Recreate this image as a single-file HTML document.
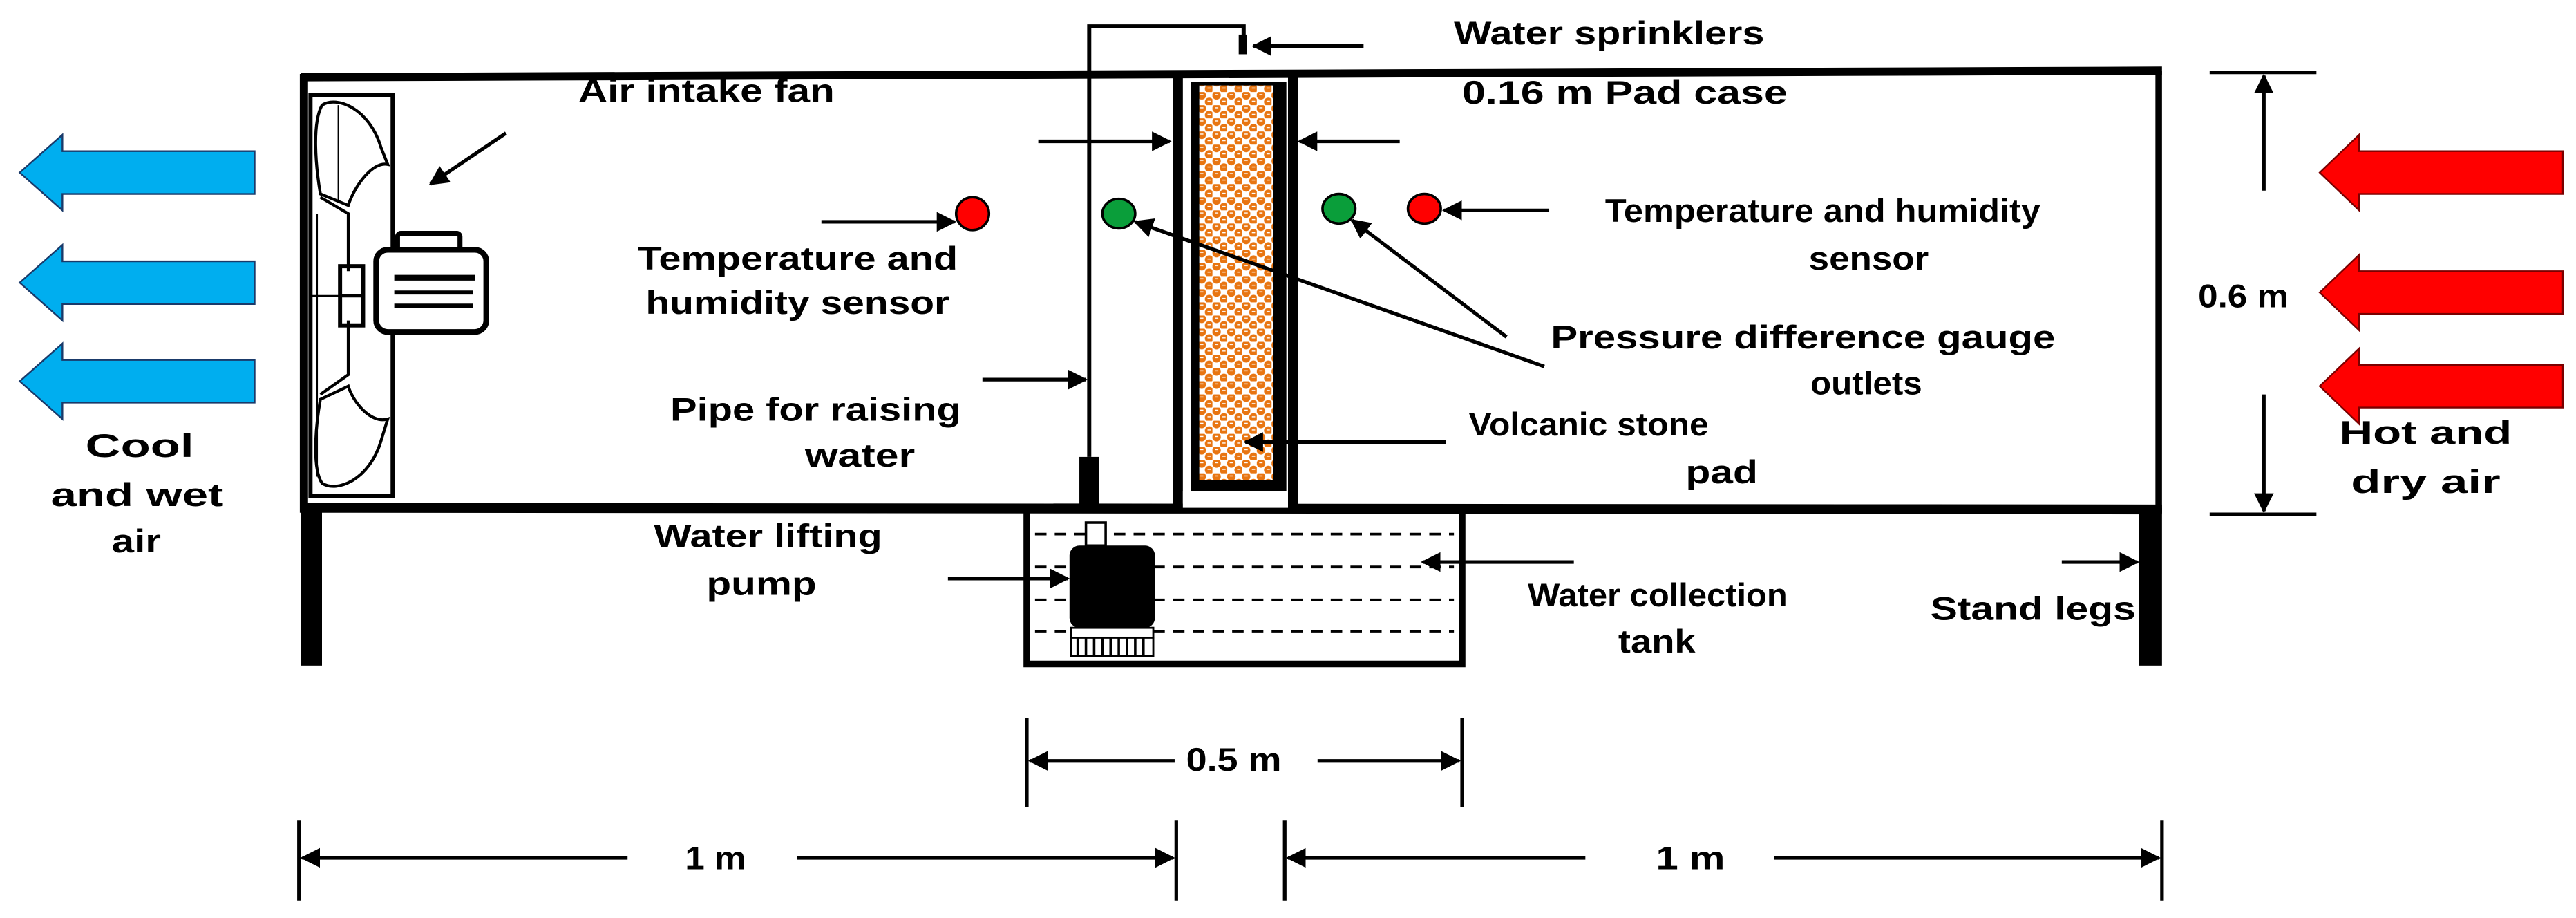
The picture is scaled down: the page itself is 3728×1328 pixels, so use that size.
<!DOCTYPE html>
<html><head><meta charset="utf-8"><style>
html,body{margin:0;padding:0;background:#fff;}
svg{display:block;}
text{font-family:"Liberation Sans Narrow","Liberation Sans",Arial,sans-serif;font-weight:bold;font-size:20px;fill:#000;}
</style></head><body>
<svg width="3728" height="1328" viewBox="0 0 1568 558.6" preserveAspectRatio="none" xmlns="http://www.w3.org/2000/svg">
<defs>
<marker id="a" viewBox="0 0 10 10" refX="9" refY="5" markerWidth="12" markerHeight="12" orient="auto-start-reverse" markerUnits="userSpaceOnUse">
<path d="M0,0 L10,5 L0,10 z" fill="#000"/></marker>
<pattern id="pad" width="9" height="8" patternUnits="userSpaceOnUse">
<rect width="9" height="8" fill="#fff"/>
<circle cx="2.5" cy="2" r="2.6" fill="#E87511"/>
<circle cx="7" cy="6" r="2.6" fill="#E87511"/>
<path d="M1.5,1.6 h2" stroke="#fff" stroke-width="0.6"/>
<path d="M6,5.6 h2" stroke="#fff" stroke-width="0.6"/>
</pattern>
</defs>

<path d="M183,47 L1316,43" stroke="#000" stroke-width="5"/>
<path d="M1314,43 L1314,312" stroke="#000" stroke-width="4"/>
<path d="M185,45 L185,312" stroke="#000" stroke-width="5"/>
<path d="M183,309 L1316,310" stroke="#000" stroke-width="6"/>
<rect x="183" y="309" width="13" height="96" fill="#000"/>
<rect x="1302" y="309" width="14" height="96" fill="#000"/>

<rect x="189" y="58" width="50" height="244" fill="none" stroke="#000" stroke-width="2.5"/>
<path d="M196,64 C205,58 225,66 232,90 L236,100 C226,98 215,115 212,125 L195,118 C192,100 190,75 196,64z" fill="none" stroke="#000" stroke-width="1.8"/>
<path d="M196,294 C205,300 225,292 232,268 L236,255 C226,258 215,245 212,235 L195,243 C192,260 190,285 196,294z" fill="none" stroke="#000" stroke-width="1.8"/>
<path d="M195,120 L212,130 L212,165 M195,240 L212,228 L212,195" fill="none" stroke="#000" stroke-width="1.8"/>
<line x1="206" y1="64" x2="206" y2="122" stroke="#000" stroke-width="1"/>
<line x1="193" y1="130" x2="193" y2="290" stroke="#000" stroke-width="1"/>
<rect x="207" y="162" width="14" height="36" fill="none" stroke="#000" stroke-width="2.5"/>
<line x1="207" y1="180" x2="221" y2="180" stroke="#000" stroke-width="2"/>
<line x1="190" y1="180" x2="207" y2="180" stroke="#000" stroke-width="1"/>
<rect x="242" y="142" width="38" height="11" rx="2" fill="none" stroke="#000" stroke-width="3"/>
<rect x="229" y="152" width="67" height="50" rx="7" fill="#fff" stroke="#000" stroke-width="3.5"/>
<line x1="240" y1="169" x2="289" y2="169" stroke="#000" stroke-width="3.5"/>
<line x1="240" y1="178" x2="288" y2="178" stroke="#000" stroke-width="2.5"/>
<line x1="240" y1="186" x2="288" y2="186" stroke="#000" stroke-width="2.5"/>

<path d="M663,278 L663,16 L757,16 L757,30" fill="none" stroke="#000" stroke-width="2.5"/>
<rect x="754" y="21" width="5" height="12" fill="#000"/>
<rect x="657" y="278" width="12" height="33" fill="#000"/>

<rect x="714" y="46" width="6" height="264" fill="#000"/>
<rect x="784" y="46" width="6" height="264" fill="#000"/>
<rect x="725" y="50" width="58" height="249" fill="#000"/>
<rect x="730" y="52" width="45" height="240" fill="url(#pad)"/>
<rect x="720" y="299" width="64" height="10" fill="#fff"/>

<path d="M625,311 L625,404 L890,404 L890,311" fill="none" stroke="#000" stroke-width="4"/>
<g stroke="#000" stroke-width="1.6" stroke-dasharray="7,5">
<line x1="630" y1="325" x2="885" y2="325"/>
<line x1="630" y1="345" x2="885" y2="345"/>
<line x1="630" y1="365" x2="885" y2="365"/>
<line x1="630" y1="384" x2="885" y2="384"/>
</g>
<rect x="661" y="318" width="12" height="14" fill="#fff" stroke="#000" stroke-width="1.5"/>
<rect x="651" y="332" width="52" height="50" rx="6" fill="#000"/>
<rect x="652" y="382" width="50" height="6" fill="#fff" stroke="#000" stroke-width="1.2"/>
<rect x="652" y="388" width="50" height="11" fill="#fff" stroke="#000" stroke-width="1.2"/>
<g stroke="#000" stroke-width="1.5"><line x1="656" y1="388" x2="656" y2="399"/><line x1="661" y1="388" x2="661" y2="399"/><line x1="666" y1="388" x2="666" y2="399"/><line x1="671" y1="388" x2="671" y2="399"/><line x1="676" y1="388" x2="676" y2="399"/><line x1="681" y1="388" x2="681" y2="399"/><line x1="686" y1="388" x2="686" y2="399"/><line x1="691" y1="388" x2="691" y2="399"/><line x1="696" y1="388" x2="696" y2="399"/></g>

<ellipse cx="592" cy="130" rx="10" ry="10" fill="#F00" stroke="#000" stroke-width="1.5"/>
<ellipse cx="681" cy="130" rx="10" ry="9" fill="#0A9E3A" stroke="#000" stroke-width="1.5"/>
<ellipse cx="815" cy="127" rx="10" ry="9" fill="#0A9E3A" stroke="#000" stroke-width="1.5"/>
<ellipse cx="867" cy="127" rx="10" ry="9" fill="#F00" stroke="#000" stroke-width="1.5"/>

<g stroke="#000" stroke-width="2.2" fill="none">
<line x1="830" y1="28" x2="763" y2="28" marker-end="url(#a)"/>
<line x1="308" y1="81" x2="262" y2="112" marker-end="url(#a)"/>
<line x1="632" y1="86" x2="712" y2="86" marker-end="url(#a)"/>
<line x1="852" y1="86" x2="791" y2="86" marker-end="url(#a)"/>
<line x1="500" y1="135" x2="581" y2="135" marker-end="url(#a)"/>
<line x1="943" y1="128" x2="879" y2="128" marker-end="url(#a)"/>
<line x1="940" y1="223" x2="691" y2="135" marker-end="url(#a)"/>
<line x1="917" y1="205" x2="823" y2="134" marker-end="url(#a)"/>
<line x1="598" y1="231" x2="661" y2="231" marker-end="url(#a)"/>
<line x1="880" y1="269" x2="758" y2="269" marker-end="url(#a)"/>
<line x1="577" y1="352" x2="650" y2="352" marker-end="url(#a)"/>
<line x1="958" y1="342" x2="866" y2="342" marker-end="url(#a)"/>
<line x1="1255" y1="342" x2="1301" y2="342" marker-end="url(#a)"/>
<line x1="1345" y1="44" x2="1410" y2="44"/>
<line x1="1345" y1="313" x2="1410" y2="313"/>
<line x1="1378" y1="116" x2="1378" y2="46" marker-end="url(#a)"/>
<line x1="1378" y1="240" x2="1378" y2="311" marker-end="url(#a)"/>
<line x1="625" y1="437" x2="625" y2="491"/>
<line x1="890" y1="437" x2="890" y2="491"/>
<line x1="715" y1="463" x2="627" y2="463" marker-end="url(#a)"/>
<line x1="802" y1="463" x2="888" y2="463" marker-end="url(#a)"/>
<line x1="182" y1="499" x2="182" y2="548"/>
<line x1="716" y1="499" x2="716" y2="548"/>
<line x1="382" y1="522" x2="184" y2="522" marker-end="url(#a)"/>
<line x1="485" y1="522" x2="714" y2="522" marker-end="url(#a)"/>
<line x1="782" y1="499" x2="782" y2="548"/>
<line x1="1316" y1="499" x2="1316" y2="548"/>
<line x1="965" y1="522" x2="784" y2="522" marker-end="url(#a)"/>
<line x1="1080" y1="522" x2="1314" y2="522" marker-end="url(#a)"/>
</g>

<g fill="#00AEEF" stroke="#1a3a6a" stroke-width="1">
<path d="M155,92 L38,92 L38,82 L12,105 L38,128 L38,118 L155,118z"/>
<path d="M155,159 L38,159 L38,149 L12,172 L38,195 L38,185 L155,185z"/>
<path d="M155,219 L38,219 L38,209 L12,232 L38,255 L38,245 L155,245z"/>
</g>
<g fill="#F00" stroke="#7a0000" stroke-width="1">
<path d="M1560,92 L1436,92 L1436,82 L1412,105 L1436,128 L1436,118 L1560,118z"/>
<path d="M1560,165 L1436,165 L1436,155 L1412,178 L1436,201 L1436,191 L1560,191z"/>
<path d="M1560,222 L1436,222 L1436,212 L1412,235 L1436,258 L1436,248 L1560,248z"/>
</g>

<text x="885" y="27" textLength="189" lengthAdjust="spacingAndGlyphs">Water sprinklers</text>
<text x="352" y="62" textLength="156" lengthAdjust="spacingAndGlyphs">Air intake fan</text>
<text x="890" y="63" textLength="198" lengthAdjust="spacingAndGlyphs">0.16 m Pad case</text>
<text x="388" y="164" textLength="195" lengthAdjust="spacingAndGlyphs">Temperature and</text>
<text x="393" y="191" textLength="185" lengthAdjust="spacingAndGlyphs">humidity  sensor</text>
<text x="977" y="135" textLength="265" lengthAdjust="spacingAndGlyphs">Temperature and humidity</text>
<text x="1101" y="164" textLength="73" lengthAdjust="spacingAndGlyphs">sensor</text>
<text x="944" y="212" textLength="307" lengthAdjust="spacingAndGlyphs">Pressure difference  gauge</text>
<text x="1102" y="240" textLength="68" lengthAdjust="spacingAndGlyphs">outlets</text>
<text x="408" y="256" textLength="177" lengthAdjust="spacingAndGlyphs">Pipe for raising</text>
<text x="490" y="284" textLength="67" lengthAdjust="spacingAndGlyphs">water</text>
<text x="894" y="265" textLength="146" lengthAdjust="spacingAndGlyphs">Volcanic stone</text>
<text x="1026" y="294" textLength="44" lengthAdjust="spacingAndGlyphs">pad</text>
<text x="52" y="278" textLength="66" lengthAdjust="spacingAndGlyphs">Cool</text>
<text x="31" y="308" textLength="105" lengthAdjust="spacingAndGlyphs">and wet</text>
<text x="68" y="336" textLength="30" lengthAdjust="spacingAndGlyphs">air</text>
<text x="1424" y="270" textLength="105" lengthAdjust="spacingAndGlyphs">Hot and</text>
<text x="1431" y="300" textLength="91" lengthAdjust="spacingAndGlyphs">dry air</text>
<text x="1338" y="187" textLength="55" lengthAdjust="spacingAndGlyphs">0.6 m</text>
<text x="398" y="333" textLength="139" lengthAdjust="spacingAndGlyphs">Water lifting</text>
<text x="430" y="362" textLength="67" lengthAdjust="spacingAndGlyphs">pump</text>
<text x="930" y="369" textLength="158" lengthAdjust="spacingAndGlyphs">Water collection</text>
<text x="985" y="397" textLength="47" lengthAdjust="spacingAndGlyphs">tank</text>
<text x="1175" y="377" textLength="125" lengthAdjust="spacingAndGlyphs">Stand legs</text>
<text x="722" y="469" textLength="58" lengthAdjust="spacingAndGlyphs">0.5 m</text>
<text x="417" y="529" textLength="37" lengthAdjust="spacingAndGlyphs">1 m</text>
<text x="1008" y="529" textLength="42" lengthAdjust="spacingAndGlyphs">1 m</text>
</svg>
</body></html>
